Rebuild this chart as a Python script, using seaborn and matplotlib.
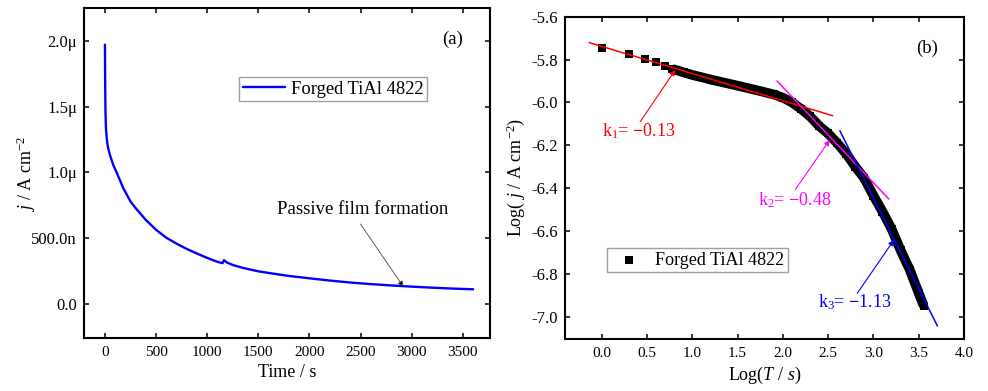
import numpy as np
import pandas as pd
import matplotlib
matplotlib.use("Agg")
import matplotlib.pyplot as plt
import seaborn as sns

# ---------------- data: panel (a) ----------------
time_s = [0, 2, 5, 10, 20, 30, 50, 80, 120, 180, 250, 300, 400, 500, 600, 700,
          800, 900, 1000, 1100, 1150, 1165, 1190, 1250, 1350, 1500, 1650, 1800,
          2000, 2200, 2400, 2600, 2800, 3000, 3200, 3400, 3600]
current_uA = [1.97, 1.70, 1.47, 1.33, 1.24, 1.19, 1.13, 1.06, 0.99, 0.88, 0.78,
              0.73, 0.64, 0.565, 0.505, 0.46, 0.42, 0.385, 0.352, 0.322, 0.312,
              0.335, 0.318, 0.298, 0.276, 0.250, 0.232, 0.215, 0.197, 0.180,
              0.165, 0.153, 0.143, 0.134, 0.126, 0.119, 0.114]
yticks_a = [0.0, 0.5e-6, 1.0e-6, 1.5e-6, 2.0e-6]
yticklabels_a = ["0.0", "500.0n", "1.0\u03bc", "1.5\u03bc", "2.0\u03bc"]
xticks_a = [0, 500, 1000, 1500, 2000, 2500, 3000, 3500]

# ---------------- data: panel (b) ----------------
log_t = [0.0, 0.301, 0.477, 0.602, 0.699, 0.778, 0.845, 0.903, 0.954, 1.0, 1.25,
         1.5, 1.75, 1.9, 2.0, 2.1, 2.2, 2.3, 2.4, 2.5, 2.6, 2.7, 2.8, 2.9, 3.0,
         3.1, 3.2, 3.3, 3.4, 3.5, 3.556]
log_j = [-5.747, -5.774, -5.799, -5.813, -5.829, -5.844, -5.852, -5.860, -5.866,
         -5.872, -5.898, -5.922, -5.947, -5.963, -5.978, -6.000, -6.030, -6.065,
         -6.110, -6.145, -6.190, -6.240, -6.300, -6.355, -6.435, -6.510, -6.590,
         -6.690, -6.780, -6.890, -6.950]
fit1_x, fit1_y = [-0.14, 2.55], [-5.721, -6.062]
fit2_x, fit2_y = [1.935, 3.17], [-5.900, -6.451]
fit3_x, fit3_y = [2.629, 3.706], [-6.132, -7.043]
slope_labels = [r"k$_1$= $\mathbf{-}$0.13", r"k$_2$= $\mathbf{-}$0.48",
                r"k$_3$= $\mathbf{-}$1.13"]
xticks_b = [0.0, 0.5, 1.0, 1.5, 2.0, 2.5, 3.0, 3.5, 4.0]
yticks_b = [-7.0, -6.8, -6.6, -6.4, -6.2, -6.0, -5.8, -5.6]

# ---------------- style ----------------
sns.set_style("ticks")
plt.rcParams.update({
    "font.family": ["Liberation Serif", "DejaVu Serif"],
    "mathtext.fontset": "custom",
    "mathtext.rm": "Liberation Serif",
    "mathtext.it": "Liberation Serif:italic",
    "mathtext.bf": "Liberation Serif:bold",
    "axes.unicode_minus": False,
    "axes.edgecolor": "black",
    "axes.linewidth": 1.5,
    "xtick.direction": "in",
    "ytick.direction": "in",
    "xtick.top": True,
    "ytick.right": True,
    "xtick.major.size": 3.6,
    "ytick.major.size": 3.6,
    "xtick.major.width": 1.1,
    "ytick.major.width": 1.1,
    "xtick.color": "black",
    "ytick.color": "black",
    "xtick.labelsize": 11,
    "ytick.labelsize": 12,
    "xtick.major.pad": 6,
    "ytick.major.pad": 5,
    "axes.labelsize": 13,
    "axes.labelcolor": "black",
    "text.color": "black",
})

fig = plt.figure(figsize=(9.88, 3.91), dpi=100)
ax1 = fig.add_axes([0.0850, 0.1355, 0.4109, 0.8440])
ax2 = fig.add_axes([0.5719, 0.1330, 0.4038, 0.8243])

# ---------------- panel (a) ----------------
df_a = pd.DataFrame({"t": time_s, "j": np.array(current_uA) * 1e-6})
sns.lineplot(data=df_a, x="t", y="j", color="#0000ff", lw=1.7,
             label="Forged TiAl 4822", ax=ax1)
ax1.set_xlim(-205, 3765)
ax1.set_ylim(-0.256e-6, 2.248e-6)
ax1.set_xticks(xticks_a)
ax1.set_yticks(yticks_a)
ax1.set_yticklabels(yticklabels_a)
ax1.set_xlabel("Time / s", labelpad=3)
ax1.set_ylabel("$j$ / A cm$^{-2}$", labelpad=-5)
ax1.text(3402, 2.013e-6, "(a)", fontsize=13.5, ha="center", va="center")
ax1.text(2519, 0.716e-6, "Passive film formation", fontsize=13.5,
         ha="center", va="center")
ax1.annotate("", xy=(2918, 0.134e-6), xytext=(2499, 0.609e-6),
             arrowprops=dict(arrowstyle="-|>", color="#444444", lw=0.6,
                             mutation_scale=8, shrinkA=0, shrinkB=0,
                             fc="black", ec="#444444"))
leg = ax1.legend(loc="upper left", bbox_to_anchor=(0.382, 0.791),
                 borderaxespad=0, fontsize=13.3, frameon=True, fancybox=False,
                 framealpha=1, edgecolor="#a0a0a0", borderpad=0.2,
                 handlelength=2.3, handletextpad=0.3)
leg.get_frame().set_linewidth(1.0)

# ---------------- panel (b) ----------------
df_b = pd.DataFrame({"logt": log_t, "logj": log_j})
band = df_b[df_b["logt"] >= 0.77]
sns.lineplot(data=band, x="logt", y="logj", color="black", lw=7.0,
             legend=False, ax=ax2, solid_capstyle="butt",
             solid_joinstyle="round")
sns.scatterplot(data=df_b, x="logt", y="logj", marker="s", s=30,
                color="black", linewidth=0, label="Forged TiAl 4822", ax=ax2)
ax2.plot(fit1_x, fit1_y, color="#ff0000", lw=1.1)
ax2.plot(fit2_x, fit2_y, color="#ff00ff", lw=1.1)
ax2.plot(fit3_x, fit3_y, color="#0000ff", lw=1.1)

arrow_kw = dict(arrowstyle="-|>", lw=0.8, mutation_scale=8, shrinkA=0, shrinkB=0)
ax2.annotate("", xy=(0.811, -5.849), xytext=(0.424, -6.090),
             arrowprops=dict(color="#ff0000", **arrow_kw))
ax2.annotate("", xy=(2.518, -6.175), xytext=(2.138, -6.406),
             arrowprops=dict(color="#ff00ff", **arrow_kw))
ax2.annotate("", xy=(3.226, -6.642), xytext=(2.821, -6.891),
             arrowprops=dict(color="#0000ff", **arrow_kw))
ax2.text(0.0, -6.160, slope_labels[0], color="#ff0000", fontsize=13,
         ha="left", va="baseline")
ax2.text(1.72, -6.482, slope_labels[1], color="#ff00ff", fontsize=13,
         ha="left", va="baseline")
ax2.text(2.39, -6.956, slope_labels[2], color="#0000ff", fontsize=13,
         ha="left", va="baseline")
ax2.text(3.595, -5.746, "(b)", fontsize=13.5, ha="center", va="center")

ax2.set_xlim(-0.406, 4.0)
ax2.set_ylim(-7.104, -5.6)
ax2.set_xticks(xticks_b)
ax2.set_yticks(yticks_b)
ax2.set_xticklabels([f"{v:.1f}" for v in xticks_b])
ax2.set_yticklabels([f"{v:.1f}" for v in yticks_b])
ax2.set_xlabel("Log($T$ / $s$)", labelpad=3)
ax2.set_ylabel("Log( $j$ / A cm$^{-2}$)", labelpad=3.5)
leg2 = ax2.legend(loc="upper left", bbox_to_anchor=(0.105, 0.282),
                  borderaxespad=0, fontsize=13.1, frameon=True, fancybox=False,
                  framealpha=1, edgecolor="#a0a0a0", borderpad=0.2,
                  handlelength=2.0, handletextpad=0.45, markerscale=1.0)
leg2.get_frame().set_linewidth(1.0)

for ax in (ax1, ax2):
    for sp in ax.spines.values():
        sp.set_visible(True)
        sp.set_color("black")
        sp.set_linewidth(1.5)
    ax.tick_params(which="both", top=True, right=True, direction="in")
    ax.minorticks_off()

fig.savefig("out.png", dpi=100)
